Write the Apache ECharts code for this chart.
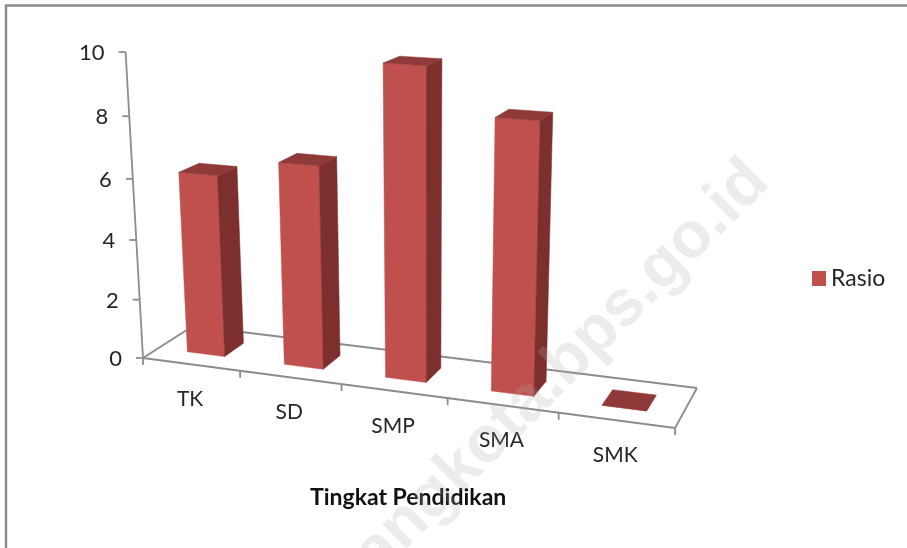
<!DOCTYPE html>
<html>
<head>
<meta charset="utf-8">
<title>Rasio</title>
<script src="https://cdn.jsdelivr.net/npm/echarts@6/dist/echarts.min.js"></script>
<style>
  html, body { margin: 0; padding: 0; background: #fff; }
  #chart { width: 907px; height: 548px; }
</style>
</head>
<body>
<div id="chart"></div>
<script>
const categories = ['TK', 'SD', 'SMP', 'SMA', 'SMK'];
const rasio = [6.07, 6.67, 9.97, 8.57, 0];
const yTicks = [0, 2, 4, 6, 8, 10];
const xTicks = [0, 1, 2, 3, 4, 5];

const YMAX = 10;
const BAR = '#C0504D', BAR_SIDE = '#7D2F2E', BAR_TOP = '#8F3A39', AXIS = '#8C8C8C';
const FONT = 'Lato, Carlito, sans-serif';

// corners of the chart floor, front-left then counter-clockwise
const Q = [[143, 358], [675, 428], [697, 388], [193, 326]];
const VANISH = [424, 5300];   // verticals converge down here
const RISE = 0.00583;         // foreshortening per unit of value

// square -> quad homography
const dx1 = Q[1][0] - Q[2][0], dx2 = Q[3][0] - Q[2][0], sx = Q[0][0] - Q[1][0] + Q[2][0] - Q[3][0];
const dy1 = Q[1][1] - Q[2][1], dy2 = Q[3][1] - Q[2][1], sy = Q[0][1] - Q[1][1] + Q[2][1] - Q[3][1];
const den = dx1 * dy2 - dx2 * dy1;
const g = (sx * dy2 - dx2 * sy) / den;
const h = (dx1 * sy - sx * dy1) / den;
const a = Q[1][0] - Q[0][0] + g * Q[1][0], b = Q[3][0] - Q[0][0] + h * Q[3][0];
const d = Q[1][1] - Q[0][1] + g * Q[1][1], e = Q[3][1] - Q[0][1] + h * Q[3][1];

function project(u, v, val) {
  const w = 1 + g * u + h * v;
  const x = (a * u + b * v + Q[0][0]) / w;
  const y = (d * u + e * v + Q[0][1]) / w;
  const k = 1 / (1 - RISE * val / w);
  return [VANISH[0] + (x - VANISH[0]) * k, VANISH[1] + (y - VANISH[1]) * k];
}

// grid pixel -> floor fraction and value, so marks go through the axis scales
function plane(params, pt) {
  const cs = params.coordSys;
  return {
    u: (pt[0] - cs.x) / cs.width,
    val: (cs.y + cs.height - pt[1]) / cs.height * YMAX
  };
}

function line(p1, p2) {
  return {
    type: 'line',
    shape: { x1: p1[0], y1: p1[1], x2: p2[0], y2: p2[1] },
    style: { stroke: AXIS, lineWidth: 1.8 }
  };
}

function face(points, color) {
  return {
    type: 'polygon',
    shape: { points: points },
    style: { fill: color, stroke: color, lineWidth: 0.5 }
  };
}

function renderFloor() {
  return {
    type: 'group',
    children: [
      line(project(0, 0, 0), project(1, 0, 0)),
      line(project(1, 0, 0), project(1, 1, 0)),
      line(project(1, 1, 0), project(0, 1, 0)),
      line(project(0, 1, 0), project(0, 0, 0)),
      line(project(0, 0, 0), project(0, 0, YMAX))
    ]
  };
}

function renderYTick(params, api) {
  const p = plane(params, api.coord([0, api.value(0)]));
  const pt = project(0, 0, p.val);
  return {
    type: 'group',
    children: [
      line([pt[0] - 7, pt[1]], pt),
      {
        type: 'text',
        style: {
          text: String(api.value(0)),
          x: pt[0] - 21,
          y: pt[1] + 1,
          align: 'right',
          verticalAlign: 'middle',
          fill: '#262626',
          font: '22px ' + FONT
        }
      }
    ]
  };
}

function renderXTick(params, api) {
  const pt = project(api.value(0) / categories.length, 0, 0);
  return line(pt, [pt[0], pt[1] + 7]);
}

function renderXLabel(params, api) {
  const i = api.value(0);
  const p = plane(params, api.coord([i, 0]));
  const pt = project(p.u, 0, 0);
  return {
    type: 'text',
    style: {
      text: categories[i],
      x: pt[0] - 1,
      y: pt[1] + 35,
      align: 'center',
      verticalAlign: 'middle',
      fill: '#262626',
      font: '21px ' + FONT
    }
  };
}

function renderBar(params, api) {
  const i = api.value(0);
  const p = plane(params, api.coord([i, api.value(1)]));
  const half = api.size([1, 0])[0] * 0.195 / params.coordSys.width;
  const u0 = p.u - half, u1 = p.u + half;
  const v0 = 0.3, v1 = 0.7;
  const top = p.val;
  return {
    type: 'group',
    children: [
      face([project(u0, v0, 0), project(u1, v0, 0), project(u1, v0, top), project(u0, v0, top)], BAR),
      face([project(u1, v0, 0), project(u1, v1, 0), project(u1, v1, top), project(u1, v0, top)], BAR_SIDE),
      face([project(u0, v0, top), project(u1, v0, top), project(u1, v1, top), project(u0, v1, top)], BAR_TOP)
    ]
  };
}

const chart = echarts.init(document.getElementById('chart'));

const option = {
  animation: false,
  backgroundColor: '#fff',
  grid: { left: 143, top: 52, width: 532, height: 306 },
  xAxis: { type: 'category', data: categories, show: false },
  yAxis: { type: 'value', min: 0, max: YMAX, interval: 2, show: false },
  legend: {
    data: ['Rasio'],
    left: 807,
    top: 262,
    icon: 'rect',
    itemWidth: 14,
    itemHeight: 15,
    itemGap: 6,
    textStyle: { fontFamily: FONT, fontSize: 23, color: '#262626' }
  },
  graphic: [
    {
      type: 'polyline',
      z: 0,
      shape: { points: [[6, 548], [6, 5.5], [907, 5.5]] },
      style: { stroke: '#8C8C8C', lineWidth: 2.5, fill: null }
    },
    {
      type: 'text',
      left: 310,
      top: 486,
      style: {
        text: 'Tingkat Pendidikan',
        fill: '#111',
        font: 'bold 23px ' + FONT
      }
    },
    {
      type: 'text',
      z: 100,
      x: 562,
      y: 368,
      rotation: 45 * Math.PI / 180,
      style: {
        text: 'angkota.bps.go.id',
        x: 0,
        y: 0,
        align: 'center',
        verticalAlign: 'middle',
        fill: 'rgba(170,170,170,0.22)',
        font: 'bold 65px "Liberation Sans", Arial, sans-serif'
      }
    }
  ],
  series: [
    { type: 'custom', name: 'floor', z: 1, silent: true, renderItem: renderFloor, data: [[0, 0]] },
    { type: 'custom', name: 'yTicks', z: 1, silent: true, renderItem: renderYTick, data: yTicks.map(v => [v]), encode: { y: 0 } },
    { type: 'custom', name: 'xTicks', z: 1, silent: true, renderItem: renderXTick, data: xTicks.map(v => [v]) },
    { type: 'custom', name: 'xLabels', z: 1, silent: true, renderItem: renderXLabel, data: categories.map((c, i) => [i]), encode: { x: 0 } },
    {
      type: 'custom',
      name: 'Rasio',
      z: 2,
      itemStyle: { color: BAR },
      renderItem: renderBar,
      data: rasio.map((v, i) => [i, v]),
      encode: { x: 0, y: 1 }
    }
  ]
};

chart.setOption(option);
</script>
</body>
</html>
